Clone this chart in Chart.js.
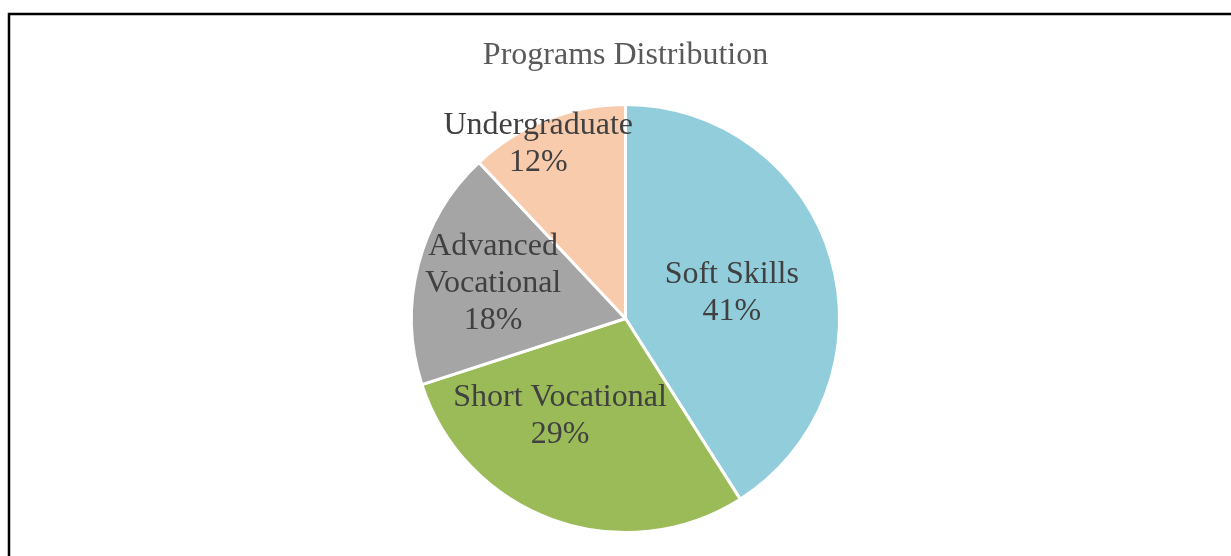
<!DOCTYPE html>
<html>
<head>
<meta charset="utf-8">
<script src="https://cdn.jsdelivr.net/npm/chart.js@4.4.1/dist/chart.umd.min.js"></script>
<style>
  html, body { margin: 0; padding: 0; background: #ffffff; overflow: hidden; }
  #wrap { position: relative; width: 1231px; height: 556px; }
  canvas { display: block; }
</style>
</head>
<body>
<div id="wrap"><canvas id="c" width="1231" height="556"></canvas></div>
<script>
const categories = ["Soft Skills", "Short Vocational", "Advanced Vocational", "Undergraduate"];
const labelLines = [["Soft Skills"], ["Short Vocational"], ["Advanced", "Vocational"], ["Undergraduate"]];
const values = [41, 29, 18, 12];
const colors = ["#92CDDC", "#9BBB59", "#A5A5A5", "#F8CBAD"];
const chartTitle = "Programs Distribution";

// label placement: fraction of radius, angle tweak (deg)
const labelRadial = [0.51, 0.55, 0.64, 0.91];
const labelAngleShift = [3, 14, 0.5, -5];

const frame = {
  id: 'frame',
  beforeDraw(chart) {
    const ctx = chart.ctx;
    ctx.save();
    ctx.strokeStyle = '#000000';
    ctx.lineWidth = 2.5;
    ctx.strokeRect(9, 14, 1300, 700);
    ctx.restore();
  }
};

const pieLabels = {
  id: 'pieLabels',
  afterDatasetsDraw(chart) {
    const ctx = chart.ctx;
    const meta = chart.getDatasetMeta(0);
    const total = values.reduce((a, b) => a + b, 0);
    ctx.save();
    ctx.font = '32px "Liberation Serif", "Times New Roman", serif';
    ctx.fillStyle = '#404040';
    ctx.textAlign = 'center';
    ctx.textBaseline = 'middle';
    const lh = 37;
    meta.data.forEach((arc, i) => {
      const p = arc.getProps(['x', 'y', 'startAngle', 'endAngle', 'outerRadius'], true);
      const mid = (p.startAngle + p.endAngle) / 2 + labelAngleShift[i] * Math.PI / 180;
      const r = p.outerRadius * labelRadial[i];
      const cx = p.x + Math.cos(mid) * r;
      const cy = p.y + Math.sin(mid) * r;
      const pct = Math.round(values[i] / total * 100) + '%';
      const lines = labelLines[i].concat([pct]);
      const y0 = cy - (lines.length - 1) * lh / 2;
      lines.forEach((t, k) => ctx.fillText(t, cx, y0 + k * lh));
    });
    ctx.restore();
  }
};

new Chart(document.getElementById('c'), {
  type: 'pie',
  data: {
    labels: categories,
    datasets: [{
      data: values,
      backgroundColor: colors,
      borderColor: '#ffffff',
      borderWidth: 3
    }]
  },
  options: {
    responsive: false,
    animation: false,
    layout: { padding: { left: 20, right: 0, top: 0, bottom: 22 } },
    plugins: {
      legend: { display: false },
      tooltip: { enabled: false },
      title: {
        display: true,
        text: chartTitle,
        fullSize: false,
        color: '#595959',
        font: { family: '"Liberation Serif", "Times New Roman", serif', size: 32, weight: 'normal', lineHeight: 1.2 },
        padding: { top: 36, bottom: 28.5 }
      }
    }
  },
  plugins: [frame, pieLabels]
});
</script>
</body>
</html>
